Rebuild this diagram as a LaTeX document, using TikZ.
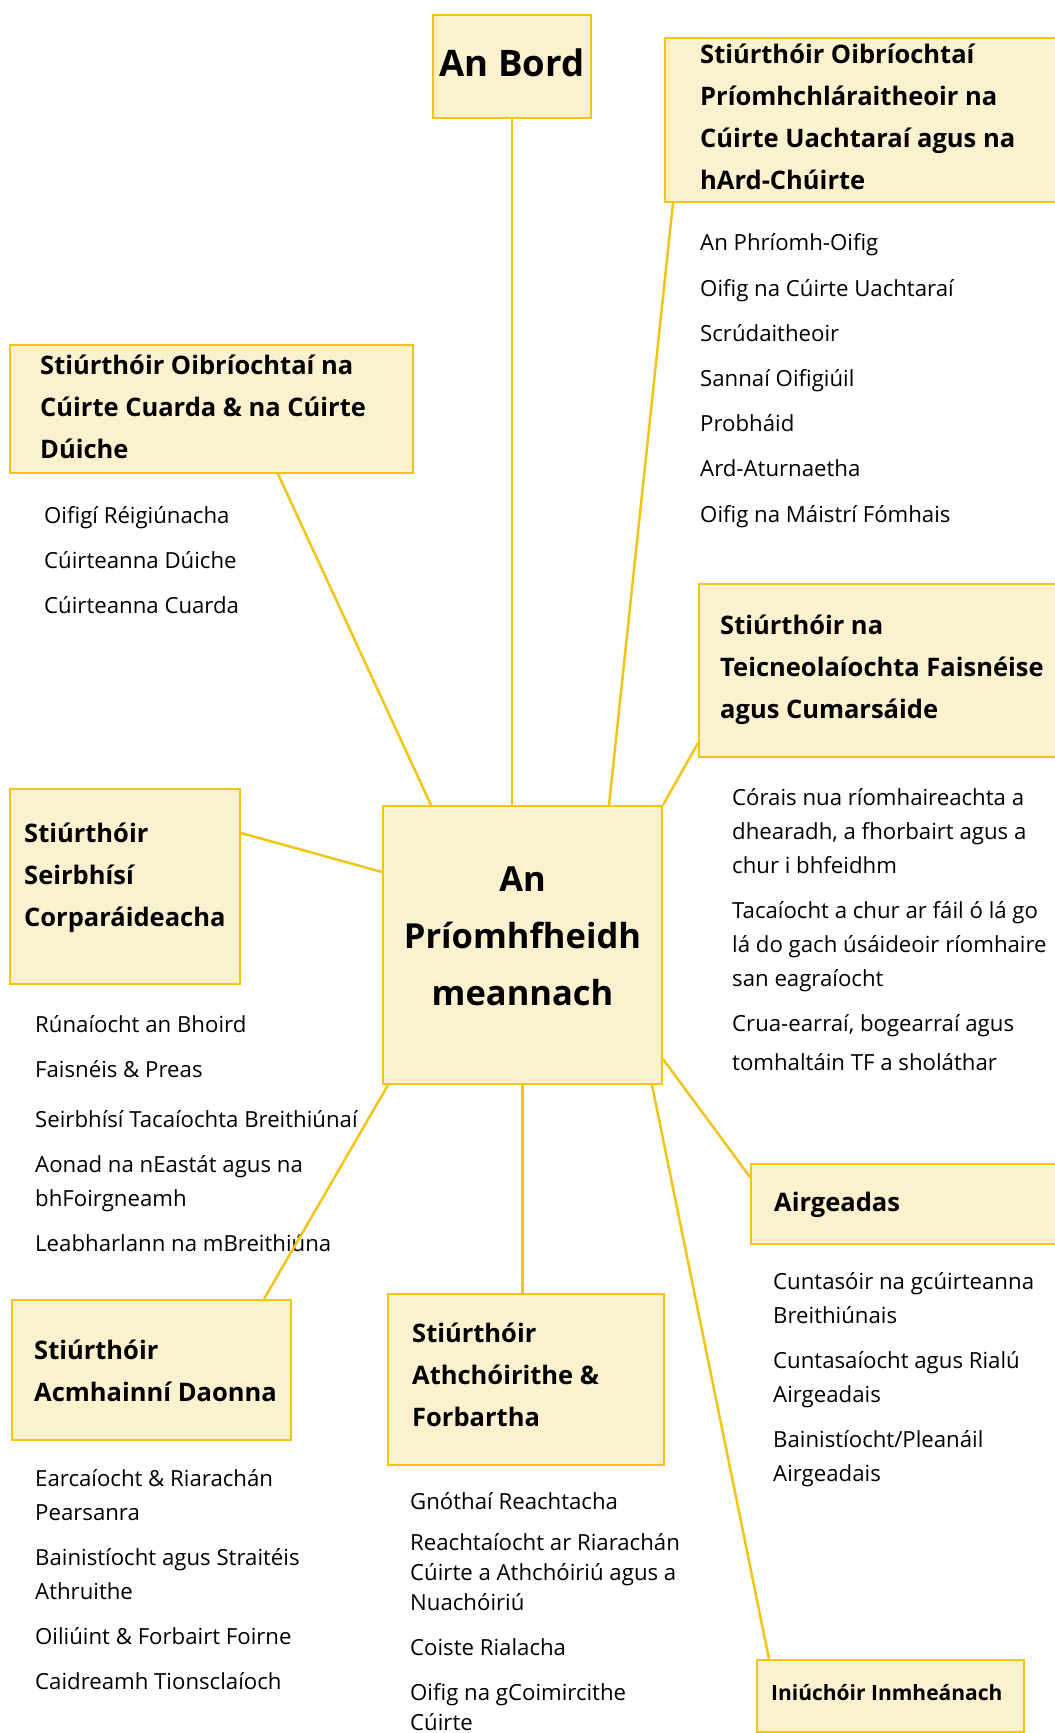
\documentclass[tikz,border=0pt]{standalone}
\usepackage{fontspec}
\setmainfont{Open Sans}
\usepackage{xcolor}

\definecolor{cream}{RGB}{252,241,206}
\definecolor{gold}{RGB}{243,196,20}

\begin{document}
\begin{tikzpicture}[x=1pt,y=-1pt,
    box/.style={draw=gold, line width=2pt, fill=cream, inner sep=0pt},
    title/.style={anchor=base west, align=left, inner sep=0pt, font=\bfseries\fontsize{25.5}{42}\selectfont},
    items/.style={anchor=base west, align=left, inner sep=0pt, font=\fontsize{22.2}{34}\selectfont},
    link/.style={gold, line width=2.5pt}]

    \useasboundingbox (0,0) rectangle (1055,1733);

    % bosca lar
    \node[box, minimum width=279pt, minimum height=278pt] (centre) at (522.5,945) {};
    \node[align=center, font=\bfseries\fontsize{34.5}{57}\selectfont] (centre-t) at (522.5,936)
          {An\\Príomhfheidh\\meannach};

    % An Bord
    \node[box, minimum width=158pt, minimum height=103pt] (bord) at (512,66.5) {};
    \node[font=\bfseries\fontsize{36.5}{40}\selectfont] (bord-t) at (512,63) {An Bord};

    % boscai
    \node[box, minimum width=397pt, minimum height=164pt] (oper) at (863.5,120) {};
    \node[box, minimum width=403pt, minimum height=128pt] (cuarda) at (211.5,409) {};
    \node[box, minimum width=363pt, minimum height=173pt] (teic) at (880.5,670.5) {};
    \node[box, minimum width=230pt, minimum height=195pt] (corp) at (125,886.5) {};
    \node[box, minimum width=311pt, minimum height=80pt] (airg) at (906.5,1204) {};
    \node[box, minimum width=279pt, minimum height=140pt] (hr) at (151.5,1370) {};
    \node[box, minimum width=276pt, minimum height=171pt] (athch) at (526,1379.5) {};
    \node[box, minimum width=267pt, minimum height=72pt] (iniu) at (890.5,1696) {};

    % ceannteidil (base = an line deireanach)
    \node[title] (oper-t) at (700,189) {Stiúrthóir Oibríochtaí\\Príomhchláraitheoir na\\Cúirte Uachtaraí agus na\\hArd-Chúirte};
    \node[title] (cuarda-t) at (40,458) {Stiúrthóir Oibríochtaí na\\Cúirte Cuarda \& na Cúirte\\Dúiche};
    \node[title] (teic-t) at (720,718) {Stiúrthóir na\\Teicneolaíochta Faisnéise\\agus Cumarsáide};
    \node[title] (corp-t) at (24,926) {Stiúrthóir\\Seirbhísí\\Corparáideacha};
    \node[title] (airg-t) at (774,1211) {Airgeadas};
    \node[title] (hr-t) at (34,1401) {Stiúrthóir\\Acmhainní Daonna};
    \node[title] (athch-t) at (412,1426) {Stiúrthóir\\Athchóirithe \&\\Forbartha};
    \node[title, font=\bfseries\fontsize{21}{25}\selectfont] (iniu-t) at (771,1700) {Iniúchóir Inmheánach};

    % liostai
    \node[items, font=\fontsize{22.2}{45.2}\selectfont] (oper-l) at (700,522)
        {An Phríomh-Oifig\\Oifig na Cúirte Uachtaraí\\Scrúdaitheoir\\Sannaí Oifigiúil\\Probháid\\Ard-Aturnaetha\\Oifig na Máistrí Fómhais};
    \node[items, font=\fontsize{22.2}{45}\selectfont] (cuarda-l) at (44,613)
        {Oifigí Réigiúnacha\\Cúirteanna Dúiche\\Cúirteanna Cuarda};
    \node[items] (teic-l) at (732,1070)
        {Córais nua ríomhaireachta a\\dhearadh, a fhorbairt agus a\\chur i bhfeidhm\\[11pt]
         Tacaíocht a chur ar fáil ó lá go\\lá do gach úsáideoir ríomhaire\\san eagraíocht\\[11pt]
         Crua-earraí, bogearraí agus\\[5pt]tomhaltáin TF a sholáthar};
    \node[items] (corp-l) at (35,1251)
        {Rúnaíocht an Bhoird\\[11pt]Faisnéis \& Preas\\[16pt]Seirbhísí Tacaíochta Breithiúnaí\\[11pt]
         Aonad na nEastát agus na\\bhFoirgneamh\\[11pt]Leabharlann na mBreithiúna};
    \node[items] (hr-l) at (35,1689)
        {Earcaíocht \& Riarachán\\Pearsanra\\[11pt]Bainistíocht agus Straitéis\\Athruithe\\[11pt]
         Oiliúint \& Forbairt Foirne\\[11pt]Caidreamh Tionsclaíoch};
    \node[items, font=\fontsize{22.2}{30}\selectfont] (athch-l) at (410,1730)
        {Gnóthaí Reachtacha\\[11pt]Reachtaíocht ar Riarachán\\Cúirte a Athchóiriú agus a\\Nuachóiriú\\[15pt]
         Coiste Rialacha\\[15pt]Oifig na gCoimircithe\\Cúirte};
    \node[items] (airg-l) at (773,1481)
        {Cuntasóir na gcúirteanna\\Breithiúnais\\[11pt]Cuntasaíocht agus Rialú\\Airgeadais\\[11pt]
         Bainistíocht/Pleanáil\\Airgeadais};

    % naisc
    \draw[link] (bord.south) -- (bord.south |- centre.north);
    \draw[link] ([xshift=9pt]oper.south west) -- ([xshift=86.5pt]centre.north);
    \draw[link] ([xshift=66.5pt]cuarda.south) -- ([xshift=-91.5pt]centre.north);
    \draw[link] ([yshift=15pt]teic.south west) -- (centre.north east);
    \draw[link] ([yshift=-45pt]corp.north east) -- ([yshift=-67pt]centre.north west);
    \draw[link] ([xshift=6pt]centre.south west) -- ([xshift=-28pt]hr.north east);
    \draw[link] (centre.south) -- (centre.south |- athch.north);
    \draw[link] ([yshift=26pt]centre.south east) -- ([yshift=-14pt]airg.north west);
    \draw[link] ([xshift=-11pt]centre.south east) -- ([xshift=13pt]iniu.north west);

\end{tikzpicture}
\end{document}
